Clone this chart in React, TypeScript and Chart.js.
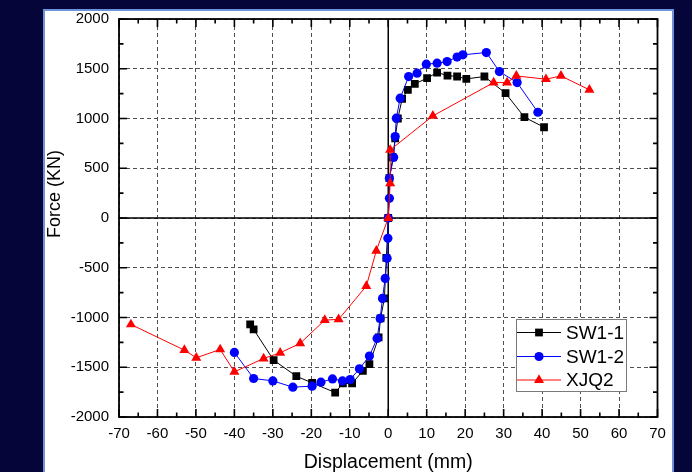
import { useEffect, useRef } from "react";
import { Chart, registerables } from "chart.js";

Chart.register(...registerables);

// ---------- data ----------
const sw11X = [-35.9, -35.0, -29.8, -23.9, -19.8, -13.8, -11.8, -9.4, -6.6, -4.9, -2.5, -2.0, -1.0, -0.5, 0, 0.3, 1.2, 1.8, 2.5, 3.6, 5.1, 6.9, 10.1, 12.7, 15.4, 17.9, 20.3, 25.0, 30.5, 35.4, 40.5];
const sw11Y = [-1070, -1120, -1429, -1590, -1657, -1754, -1663, -1663, -1536, -1469, -1200, -1009, -808, -400, 0, 400, 610, 800, 1000, 1197, 1288, 1348, 1405, 1462, 1432, 1422, 1398, 1422, 1254, 1013, 912];

const sw12X = [-40, -35, -30, -24.8, -19.8, -17.5, -14.5, -11.9, -9.9, -7.5, -4.9, -2.9, -2.1, -1.5, -0.8, -0.3, -0.1, 0, 0.3, 0.3, 1.4, 1.8, 2.1, 3.1, 5.3, 7.5, 9.9, 12.7, 15.3, 17.9, 19.4, 25.5, 28.9, 33.5, 38.9];
const sw12Y = [-1351, -1613, -1637, -1700, -1690, -1650, -1617, -1637, -1623, -1516, -1388, -1210, -1009, -808, -607, -405, -204, 0, 198, 399, 610, 818, 1003, 1204, 1421, 1456, 1546, 1556, 1572, 1617, 1640, 1663, 1472, 1361, 1063];

const xjq2X = [-66.9, -53.0, -49.9, -43.7, -40.0, -32.4, -28.1, -22.9, -16.5, -12.9, -5.7, -3.1, 0, 0.5, 0.5, 11.6, 27.4, 30.9, 33.3, 41.0, 44.9, 52.3];
const xjq2Y = [-1070, -1328, -1405, -1321, -1546, -1412, -1355, -1260, -1026, -1019, -684, -329, 0, 349, 684, 1026, 1361, 1361, 1428, 1395, 1428, 1288];

const seriesNames = ["SW1-1", "SW1-2", "XJQ2"];
const xRange = [-70, 70];
const yRange = [-2000, 2000];
const xStep = 10;
const yStep = 500;
const xTitle = "Displacement (mm)";
const yTitle = "Force (KN)";

const FONT = "'Liberation Sans', Arial, sans-serif";
const COLORS = ["#000000", "#0000ff", "#ff0000"];
const STYLES = ["rect", "circle", "triangle"];
const RADII = [5.5, 4.6, 5.8];

const toPoints = (xs: number[], ys: number[]) => xs.map((x, i) => ({ x, y: ys[i] }));

function drawMarker(ctx: CanvasRenderingContext2D, style: string, x: number, y: number, r: number) {
  ctx.beginPath();
  if (style === "rect") {
    const s = Math.SQRT1_2 * r;
    ctx.rect(x - s, y - s, 2 * s, 2 * s);
  } else if (style === "circle") {
    ctx.arc(x, y, r, 0, Math.PI * 2);
  } else {
    ctx.moveTo(x, y - r);
    ctx.lineTo(x + r * Math.cos(Math.PI / 6), y + r / 2);
    ctx.lineTo(x - r * Math.cos(Math.PI / 6), y + r / 2);
    ctx.closePath();
  }
  ctx.fill();
}

const framePlugin = {
  id: "originFrame",
  beforeDatasetsDraw(chart: any) {
    const { ctx, chartArea: a, scales } = chart;
    const xs = scales.x;
    const ys = scales.y;
    ctx.save();
    ctx.strokeStyle = "#000";
    // zero lines
    ctx.lineWidth = 1.5;
    const x0 = xs.getPixelForValue(0);
    const y0 = ys.getPixelForValue(0);
    ctx.beginPath();
    ctx.moveTo(x0, a.top);
    ctx.lineTo(x0, a.bottom);
    ctx.moveTo(a.left, y0);
    ctx.lineTo(a.right, y0);
    ctx.stroke();
    // inward ticks on all four sides
    ctx.lineWidth = 1.6;
    ctx.beginPath();
    for (let v = xRange[0]; v <= xRange[1]; v += xStep / 2) {
      const px = xs.getPixelForValue(v);
      const len = v % xStep === 0 ? 8 : 4.5;
      ctx.moveTo(px, a.bottom);
      ctx.lineTo(px, a.bottom - len);
      ctx.moveTo(px, a.top);
      ctx.lineTo(px, a.top + len);
    }
    for (let v = yRange[0]; v <= yRange[1]; v += yStep / 2) {
      const py = ys.getPixelForValue(v);
      const len = v % yStep === 0 ? 8 : 4.5;
      ctx.moveTo(a.left, py);
      ctx.lineTo(a.left + len, py);
      ctx.moveTo(a.right, py);
      ctx.lineTo(a.right - len, py);
    }
    ctx.stroke();
    // frame
    ctx.lineWidth = 1.8;
    ctx.strokeRect(a.left, a.top, a.right - a.left, a.bottom - a.top);
    ctx.restore();
  },
  afterDraw(chart: any) {
    const { ctx } = chart;
    ctx.save();
    // y-axis title
    ctx.font = `18px ${FONT}`;
    ctx.fillStyle = "#000";
    ctx.translate(59.5, 238);
    ctx.rotate(-Math.PI / 2);
    ctx.textAlign = "left";
    ctx.textBaseline = "alphabetic";
    ctx.fillText(yTitle, 0, 0);
    ctx.restore();

    // legend
    ctx.save();
    const bx = 516.5, by = 319.5, bw = 110, bh = 72;
    ctx.fillStyle = "#fff";
    ctx.fillRect(bx, by, bw, bh);
    ctx.strokeStyle = "#7a7a7a";
    ctx.lineWidth = 1;
    ctx.strokeRect(bx, by, bw, bh);
    const rows = [332.5, 356.5, 380];
    chart.data.datasets.forEach((ds: any, i: number) => {
      const ry = rows[i];
      ctx.strokeStyle = ds.borderColor;
      ctx.lineWidth = 1;
      ctx.beginPath();
      ctx.moveTo(517, ry);
      ctx.lineTo(561, ry);
      ctx.stroke();
      ctx.fillStyle = ds.backgroundColor;
      drawMarker(ctx, ds.pointStyle, 539, ry, ds.pointRadius);
      ctx.fillStyle = "#000";
      ctx.font = `19px ${FONT}`;
      ctx.textAlign = "left";
      ctx.textBaseline = "middle";
      ctx.fillText(ds.label, 566, ry + 1);
    });
    ctx.restore();
  },
};

export default function App() {
  const ref = useRef<HTMLCanvasElement | null>(null);

  useEffect(() => {
    if (!ref.current) return;
    const series = [toPoints(sw11X, sw11Y), toPoints(sw12X, sw12Y), toPoints(xjq2X, xjq2Y)];
    const chart = new Chart(ref.current, {
      type: "scatter",
      data: {
        datasets: series.map((pts, i) => ({
          label: seriesNames[i],
          data: pts,
          showLine: true,
          borderColor: COLORS[i],
          backgroundColor: COLORS[i],
          borderWidth: 1,
          pointStyle: STYLES[i] as any,
          pointRadius: RADII[i],
          pointBorderWidth: 0,
          pointBackgroundColor: COLORS[i],
          tension: 0,
          order: 2 - i,
        })),
      },
      options: {
        animation: false,
        responsive: false,
        events: [],
        layout: { padding: { top: 19, right: 34.5, left: 0, bottom: 0 } },
        plugins: {
          legend: { display: false },
          tooltip: { enabled: false },
        },
        scales: {
          x: {
            type: "linear",
            min: xRange[0],
            max: xRange[1],
            ticks: {
              stepSize: xStep,
              padding: 8,
              color: "#000",
              font: { family: FONT, size: 15 },
              callback: (v: any) => String(v),
              maxRotation: 0,
            },
            grid: { color: "#505050", lineWidth: 1, drawTicks: false },
            border: { display: false, dash: [4, 3] },
            title: {
              display: true,
              text: xTitle,
              color: "#000",
              font: { family: FONT, size: 19.5 },
              padding: { top: 0, bottom: -2.5 },
            },
            afterFit: (s: any) => {
              s.height = 55;
            },
          },
          y: {
            type: "linear",
            min: yRange[0],
            max: yRange[1],
            ticks: {
              stepSize: yStep,
              padding: 10,
              color: "#000",
              font: { family: FONT, size: 15 },
              callback: (v: any) => String(v),
            },
            grid: { color: "#505050", lineWidth: 1, drawTicks: false },
            border: { display: false, dash: [4, 3] },
            afterFit: (s: any) => {
              s.width = 119;
            },
          },
        },
      },
      plugins: [framePlugin],
    });
    return () => chart.destroy();
  }, []);

  return (
    <div
      style={{
        position: "fixed",
        left: 0,
        top: 0,
        width: 692,
        height: 472,
        background: "#05053a",
        overflow: "hidden",
      }}
    >
      <div
        style={{
          position: "absolute",
          left: 43,
          top: 9,
          width: 631,
          height: 520,
          background: "#ffffff",
          border: "2px solid #6f93d8",
          boxSizing: "border-box",
        }}
      />
      <canvas
        ref={ref}
        width={692}
        height={472}
        style={{ position: "absolute", left: 0, top: 0, width: 692, height: 472 }}
      />
    </div>
  );
}
